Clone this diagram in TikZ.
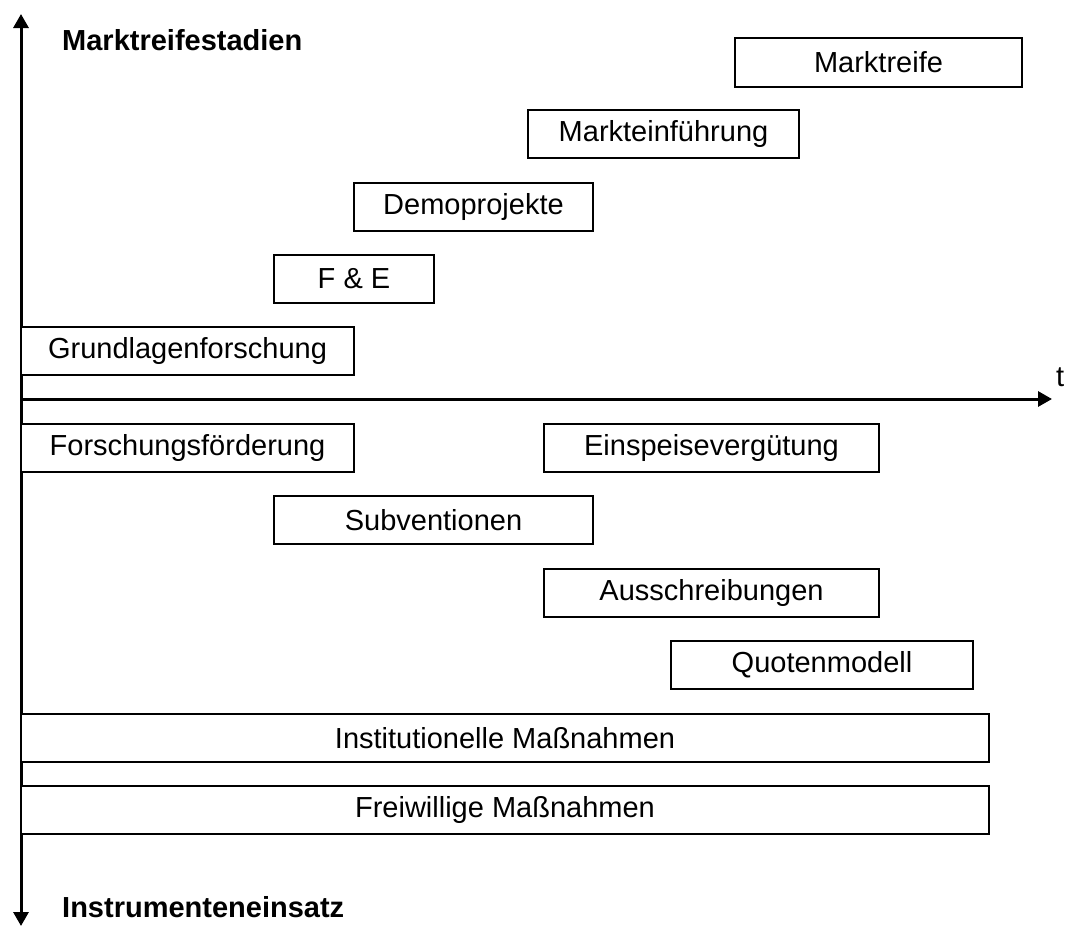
\documentclass[tikz,border=0pt]{standalone}
\usepackage{fontspec}
\setmainfont{Liberation Sans}
\usetikzlibrary{arrows.meta}

\begin{document}
\begin{tikzpicture}[
  x=1pt, y=-1pt,
  font=\fontsize{29}{34}\selectfont,
  box/.style={draw, line width=2pt, inner sep=0pt, minimum height=48pt, fill=white},
  axis/.style={line width=3pt, {Triangle[width=15pt,length=14pt]}-{Triangle[width=15pt,length=14pt]}},
  taxis/.style={line width=3pt, -{Triangle[width=15pt,length=14pt]}},
  head/.style={font=\fontsize{29}{34}\selectfont\bfseries, inner sep=0pt}]
  \useasboundingbox (0,0) rectangle (1067,926);
  % axes
  \coordinate (top) at (21,14);
  \coordinate (bottom) at (21,926);
  \coordinate (origin) at (21,399);
  \coordinate (tend) at (1052,399);
  \draw[axis] (bottom) -- (top);
  \draw[taxis] (origin) -- (tend);
  \node[inner sep=0pt, anchor=base west] (t) at (1056,386) {t};
  \node[head, anchor=base west] (stadien) at (62,50) {Marktreifestadien};
  \node[head, anchor=base west] (einsatz) at (62,917) {Instrumenteneinsatz};
  % Marktreifestadien
  \node[box, minimum width=287pt, minimum height=49pt] (reife) at (878.5,62) {Marktreife};
  \node[box, minimum width=271pt] (einf) at (663.5,134) {Markteinführung};
  \node[box, minimum width=239pt] (demo) at (473.5,207) {Demoprojekte};
  \node[box, minimum width=160pt] (fue) at (354,279) {F \& E};
  \node[box, minimum width=333pt] (grund) at (187.5,351) {Grundlagenforschung};
  % Instrumente
  \node[box, minimum width=333pt] (foerd) at (187.5,448) {Forschungsförderung};
  \node[box, minimum width=335pt] (einsp) at (711.5,448) {Einspeisevergütung};
  \node[box, minimum width=319pt] (subv) at (433.5,520) {Subventionen};
  \node[box, minimum width=335pt] (aussch) at (711.5,593) {Ausschreibungen};
  \node[box, minimum width=302pt] (quote) at (822,665) {Quotenmodell};
  \node[box, minimum width=968pt] (inst) at (505,738) {Institutionelle Maßnahmen};
  \node[box, minimum width=968pt] (frei) at (505,810) {Freiwillige Maßnahmen};
\end{tikzpicture}
\end{document}
